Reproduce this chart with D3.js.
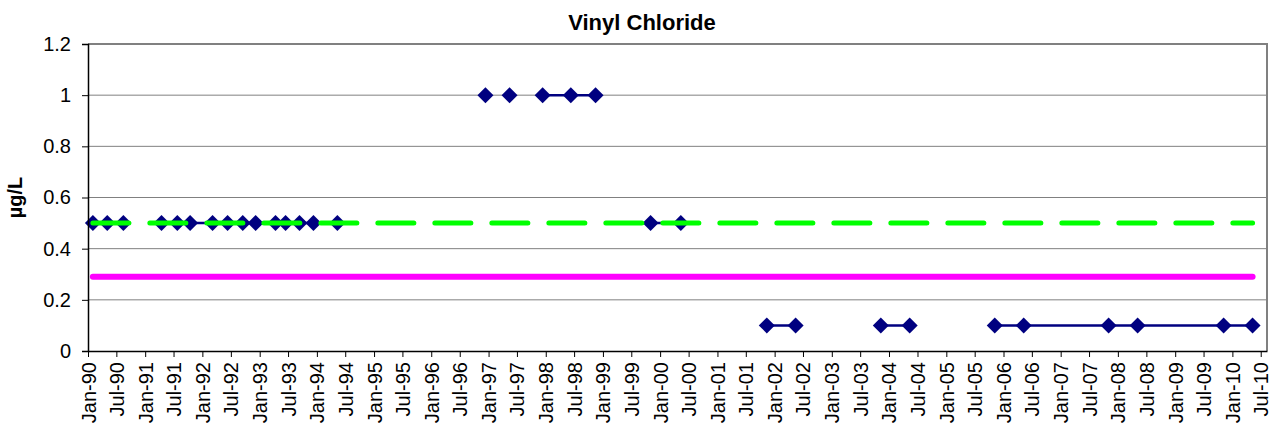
<!DOCTYPE html>
<html>
<head>
<meta charset="utf-8">
<script src="https://cdn.jsdelivr.net/npm/d3@7"></script>
<style>
  html, body { margin: 0; padding: 0; background: #fff; }
  svg { display: block; font-family: Arial, "Liberation Sans", sans-serif; }
</style>
</head>
<body>
<svg id="chart" width="1281" height="431"></svg>
<script>
// ---- data ----
const chartTitle = "Vinyl Chloride";
const yAxisTitle = "µg/L";
// null value = break in the connecting line
const sampleDates = [
  "1990-02-01","1990-05-04","1990-08-15","1990-12-01",
  "1991-04-15","1991-07-25","1991-10-15","1992-03-06","1992-06-10","1992-09-15","1992-12-06",
  "1993-04-12","1993-06-15","1993-09-12","1993-12-10","1994-05-12","1995-01-01",
  "1996-12-12","1997-02-01","1997-05-15","1997-08-01",
  "1997-12-12","1998-06-10","1998-11-15","1999-05-01",
  "1999-11-01","2000-05-12","2001-01-01",
  "2001-11-12","2002-05-15","2003-01-01",
  "2003-11-10","2004-05-12","2005-01-01",
  "2005-11-06","2006-05-10","2007-11-03","2008-05-06","2009-11-06","2010-05-10"
];
const sampleValues = [
  0.5, 0.5, 0.5, null,
  0.5, 0.5, 0.5, 0.5, 0.5, 0.5, 0.5,
  0.5, 0.5, 0.5, 0.5, 0.5, null,
  1, null, 1, null,
  1, 1, 1, null,
  0.5, 0.5, null,
  0.1, 0.1, null,
  0.1, 0.1, null,
  0.1, 0.1, 0.1, 0.1, 0.1, 0.1
];
const standardNames = ["Standard A", "Standard B"];
const standardValues = [0.5, 0.29];
const yTickValues = [0, 0.2, 0.4, 0.6, 0.8, 1, 1.2];
const yTickLabels = ["0", "0.2", "0.4", "0.6", "0.8", "1", "1.2"];
const xDomainDates = ["1990-01-01", "2010-08-10"];

// ---- layout ----
const svg = d3.select("#chart");
const L = 88, R = 1267, T = 44, B = 351;
const parse = d3.utcParse("%Y-%m-%d");
const x = d3.scaleUtc().domain(xDomainDates.map(parse)).range([L, R]);
const y = d3.scaleLinear().domain([0, 1.2]).range([B, T]);

const samples = sampleDates.map((d, i) => ({ date: parse(d), value: sampleValues[i] }));
const pts = samples.filter(d => d.value !== null);

// gridlines
svg.append("g").selectAll("line").data(yTickValues.filter(v => v > 0)).join("line")
  .attr("x1", L).attr("x2", R).attr("y1", d => y(d)).attr("y2", d => y(d))
  .attr("stroke", "#808080").attr("stroke-width", 1);

// plot border (top/right)
svg.append("path")
  .attr("d", `M${L},${T}H${R}V${B}`)
  .attr("fill", "none").attr("stroke", "#808080").attr("stroke-width", 2);

// sample line
const line = d3.line().defined(d => d.value !== null).x(d => x(d.date)).y(d => y(d.value));
svg.append("path").datum(samples)
  .attr("d", line).attr("fill", "none").attr("stroke", "#000080").attr("stroke-width", 2.5);

// markers
svg.append("g").selectAll("path").data(pts).join("path")
  .attr("transform", d => `translate(${x(d.date)},${y(d.value)})`)
  .attr("d", "M0,-8L8,0L0,8L-8,0Z")
  .attr("fill", "#000080");

// standards (drawn on top)
const stdStart = d3.min(pts, d => d.date), stdEnd = d3.max(pts, d => d.date);
const stdStyles = [
  { color: "#00ff00", width: 5, dash: "36,21" },
  { color: "#ff00ff", width: 6, dash: null }
];
standardValues.forEach((v, i) => {
  const s = stdStyles[i];
  svg.append("line")
    .attr("x1", x(stdStart)).attr("x2", x(stdEnd))
    .attr("y1", y(v)).attr("y2", y(v))
    .attr("stroke", s.color).attr("stroke-width", s.width)
    .attr("stroke-linecap", "round")
    .attr("stroke-dasharray", s.dash);
});

// y axis
const yAxis = svg.append("g").attr("transform", `translate(${L},0)`)
  .call(d3.axisLeft(y).tickValues(yTickValues).tickFormat((d, i) => yTickLabels[i]).tickSize(6).tickPadding(11));
yAxis.select(".domain").attr("stroke", "#000").attr("stroke-width", 1.5);
yAxis.selectAll(".tick line").attr("stroke", "#000");
yAxis.selectAll(".tick text").attr("font-size", 20).attr("fill", "#000")
  .attr("font-family", "Arial, 'Liberation Sans', sans-serif");

// x axis
const xTicks = d3.utcMonth.every(6).range(parse("1990-01-01"), parse("2010-07-02"));
const fmt = d3.utcFormat("%b-%y");
const xAxis = svg.append("g").attr("transform", `translate(0,${B})`)
  .call(d3.axisBottom(x).tickValues(xTicks).tickFormat(fmt).tickSize(6).tickSizeOuter(0));
xAxis.select(".domain").attr("stroke", "#000").attr("stroke-width", 1.5);
xAxis.selectAll(".tick line").attr("stroke", "#000");
xAxis.selectAll(".tick text")
  .attr("font-size", 20).attr("fill", "#000")
  .attr("font-family", "Arial, 'Liberation Sans', sans-serif")
  .attr("text-anchor", "end")
  .attr("transform", "rotate(-90)")
  .attr("x", -11).attr("y", 0).attr("dy", "0.35em");

// titles
svg.append("text").attr("x", 642).attr("y", 30)
  .attr("text-anchor", "middle").attr("font-size", 22).attr("font-weight", "bold")
  .text(chartTitle);
svg.append("text")
  .attr("transform", `translate(22,${(T + B) / 2}) rotate(-90)`)
  .attr("text-anchor", "middle").attr("font-size", 20).attr("font-weight", "bold")
  .text(yAxisTitle);
</script>
</body>
</html>
